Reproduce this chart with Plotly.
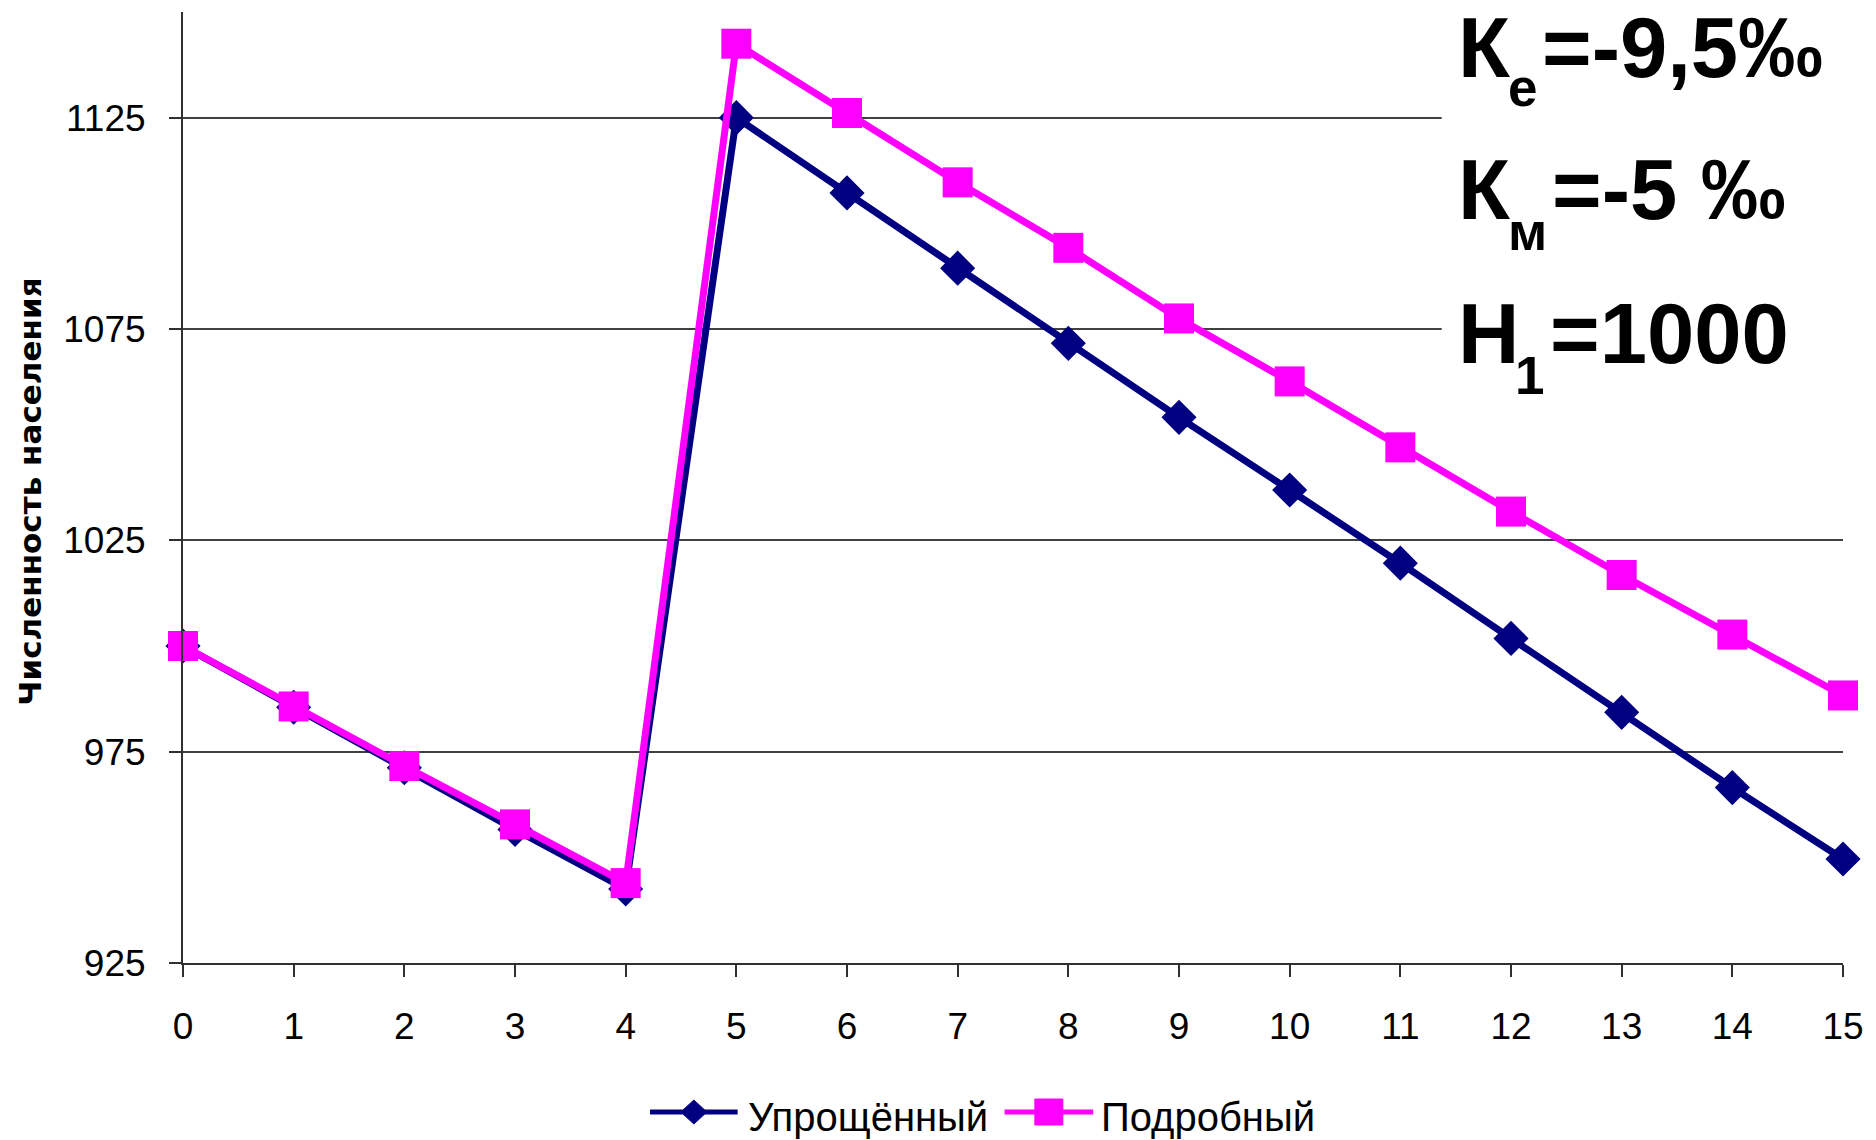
import plotly.graph_objects as go

# ---------------- data ----------------
years = list(range(16))
x_tick_labels = [str(v) for v in years]
simplified = [1000, 985.5, 971.2, 956.6, 942.5, 1125.0, 1107.2, 1089.4, 1071.6,
              1054.1, 1036.9, 1019.6, 1001.8, 984.3, 966.5, 949.6]
detailed = [1000, 985.7, 971.6, 957.8, 943.9, 1142.5, 1126.1, 1109.7, 1094.2,
            1077.5, 1062.6, 1047.0, 1031.8, 1016.8, 1002.7, 988.3]
y_tick_values = [925, 975, 1025, 1075, 1125]
series_names = ["Упрощённый", "Подробный"]
y_title = "Численность населения"
# parameter labels: (main, subscript, rest)
param_lines = [("К", "е", "=-9,5‰"), ("К", "м", "=-5 ‰"), ("Н", "1", "=1000")]

# ---------------- layout geometry ----------------
W, H = 1876, 1140
L, R, T, B = 183, 26, 12, 177
PW, PH = W - L - R, H - T - B


def px(x):
    return (x - L) / PW


def py(y):
    return (H - B - y) / PH


BLUE = "#000080"
PINK = "#FF00FF"
FONT = "Liberation Sans, Arial, sans-serif"

fig = go.Figure()
fig.add_trace(go.Scatter(
    x=years, y=simplified, name=series_names[0], mode="lines+markers",
    line=dict(color=BLUE, width=7),
    marker=dict(symbol="diamond", size=27, color=BLUE),
    cliponaxis=False, showlegend=False))
fig.add_trace(go.Scatter(
    x=years, y=detailed, name=series_names[1], mode="lines+markers",
    line=dict(color=PINK, width=7),
    marker=dict(symbol="square", size=30, color=PINK),
    cliponaxis=False, showlegend=False))

annotations = []
shapes = []

# white box behind parameter text (hides gridlines there)
shapes.append(dict(type="rect", xref="paper", yref="paper",
                   x0=px(1447), x1=px(W + 5), y0=py(420), y1=py(-5),
                   fillcolor="white", line=dict(width=0), layer="above"))

# parameter text pieces: main glyph, subscript, rest
main_fs, sub_fs = 85, 53
line_specs = [
    # (main_x, sub_x, rest_x, main_baseline, sub_baseline)
    (1462, 1513, 1547, 77, 106),
    (1462, 1513, 1557, 219, 250),
    (1462, 1520, 1555, 363, 394),
]
for (m, s, r), (mx, sx, rx, mb, sb) in zip(param_lines, line_specs):
    for txt, xx, base, fs in ((m, mx, mb, main_fs), (s, sx, sb, sub_fs), (r, rx, mb, main_fs)):
        annotations.append(dict(
            text="<b>%s</b>" % txt, xref="paper", yref="paper",
            x=px(xx), y=py(base - 0.3465 * fs), xanchor="left", yanchor="middle",
            borderpad=0, showarrow=False,
            font=dict(family=FONT, size=fs, color="black")))

# y axis title
annotations.append(dict(
    text="<b>%s</b>" % y_title, xref="paper", yref="paper",
    x=px(29), y=py(492), xanchor="center", yanchor="middle", textangle=-90,
    showarrow=False, font=dict(family="DejaVu Sans, sans-serif", size=31, color="black")))

# custom legend
leg_y = 1112
legend_items = [
    (series_names[0], BLUE, "diamond", 652, 740, 750),
    (series_names[1], PINK, "square", 1008, 1097, 1105),
]
for name, col, sym, x0, x1, tx in legend_items:
    shapes.append(dict(type="line", xref="paper", yref="paper",
                       x0=px(x0), x1=px(x1), y0=py(leg_y), y1=py(leg_y),
                       line=dict(color=col, width=5)))
    cx = (x0 + x1) / 2
    if sym == "diamond":
        shapes.append(dict(type="path", xref="paper", yref="paper",
                           xsizemode="pixel", ysizemode="pixel",
                           xanchor=px(cx), yanchor=py(leg_y),
                           path="M 0 12 L 13 0 L 0 -12 L -13 0 Z",
                           fillcolor=col, line=dict(color=col, width=1)))
    else:
        shapes.append(dict(type="rect", xref="paper", yref="paper",
                           xsizemode="pixel", ysizemode="pixel",
                           xanchor=px(cx), yanchor=py(leg_y),
                           x0=-14, x1=14, y0=-13, y1=13,
                           fillcolor=col, line=dict(color=col, width=1)))
    annotations.append(dict(
        text=name, xref="paper", yref="paper", x=px(tx - 1), y=py(1131 - 0.3465 * 40),
        xanchor="left", yanchor="middle", showarrow=False, borderpad=0,
        font=dict(family=FONT, size=40, color="black")))

fig.update_layout(
    width=W, height=H,
    margin=dict(l=L, r=R, t=T, b=B, pad=0),
    paper_bgcolor="white", plot_bgcolor="white",
    font=dict(family=FONT, size=37, color="black"),
    showlegend=False,
    annotations=annotations,
    shapes=shapes,
)
fig.update_xaxes(
    range=[0, 15], tickmode="array", tickvals=years, ticktext=x_tick_labels,
    showgrid=False, zeroline=False,
    showline=True, linecolor="#303030", linewidth=2,
    ticks="outside", ticklen=12, tickwidth=2, tickcolor="#303030",
    tickfont=dict(family=FONT, size=37, color="black"),
    ticklabelstandoff=18,
)
fig.update_yaxes(
    range=[925, 1150], tickmode="array", tickvals=y_tick_values,
    ticktext=[str(v) for v in y_tick_values],
    showgrid=True, gridcolor="#404040", gridwidth=1.5, zeroline=False,
    showline=True, linecolor="#303030", linewidth=2,
    ticks="outside", ticklen=12, tickwidth=2, tickcolor="#303030",
    tickfont=dict(family=FONT, size=37, color="black"),
    ticklabelstandoff=16,
)

fig.write_html("out.html", include_plotlyjs=True,
               config={"displayModeBar": False},
               post_script="document.body.style.margin='0';document.body.style.overflow='hidden';")
